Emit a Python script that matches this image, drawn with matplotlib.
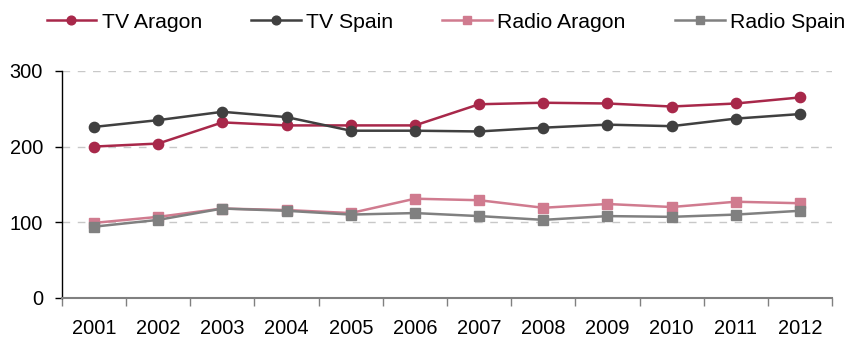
import matplotlib
matplotlib.use("Agg")
import matplotlib.pyplot as plt
import numpy as np

years = ["2001", "2002", "2003", "2004", "2005", "2006",
         "2007", "2008", "2009", "2010", "2011", "2012"]
tv_aragon = [200, 204, 232, 228, 228, 228, 256, 258, 257, 253, 257, 265]
tv_spain = [226, 235, 246, 239, 221, 221, 220, 225, 229, 227, 237, 243]
radio_aragon = [99, 107, 118, 116, 112, 131, 129, 119, 124, 120, 127, 125]
radio_spain = [94, 103, 118, 115, 110, 112, 108, 103, 108, 107, 110, 115]
y_ticks = [0, 100, 200, 300]

plt.rcParams['font.family'] = ['Liberation Sans', 'DejaVu Sans']
LEGEND_FS = 15.3
TICK_FS = 14.4

fig = plt.figure(figsize=(8.49, 3.4), dpi=100)
ax = fig.add_axes([62 / 849, 1 - 297.7 / 340, (832 - 62) / 849, (297.7 - 71) / 340])

x = np.arange(len(years))
series = [
    ("TV Aragon", tv_aragon, "#A8284A", "o", 7.4),
    ("TV Spain", tv_spain, "#404040", "o", 7.4),
    ("Radio Aragon", radio_aragon, "#D07B8F", "s", 7.4),
    ("Radio Spain", radio_spain, "#808080", "s", 7.4),
]
handles = []
for name, vals, col, mk, ms in series:
    h, = ax.plot(x, vals, color=col, marker=mk, markersize=ms, linewidth=1.8,
                 label=name, zorder=3)
    handles.append(h)

ax.set_xlim(-0.5, len(years) - 0.5)
ax.set_ylim(0, 300)
ax.set_yticks(y_ticks)
ax.set_yticklabels([str(v) for v in y_ticks], fontsize=TICK_FS)
ax.set_xticks(x)
ax.set_xticklabels(years, fontsize=TICK_FS)
ax.set_xticks(np.arange(-0.5, len(years)), minor=True)
ax.tick_params(axis='x', which='major', length=0, pad=15.5)
ax.tick_params(axis='x', which='minor', length=6, width=1, color='#808080', direction='out')
ax.tick_params(axis='y', length=5, width=1, color='black', direction='out', pad=8.6)

for y in y_ticks[1:]:
    ax.axhline(y, color='#c8c8c8', linewidth=1, linestyle=(0, (5.5, 5.5)), zorder=1)

ax.spines['top'].set_visible(False)
ax.spines['right'].set_visible(False)
ax.spines['left'].set_color('black')
ax.spines['left'].set_linewidth(1)
ax.spines['bottom'].set_color('#808080')
ax.spines['bottom'].set_linewidth(1.5)

fig.legend(handles=handles, loc='center left', bbox_to_anchor=(38 / 849, 1 - 22 / 340),
           ncol=4, frameon=False, fontsize=LEGEND_FS, handlelength=2.35,
           handletextpad=0.25, columnspacing=2.3, markerscale=0.85,
           borderaxespad=0.0)

fig.savefig("out.png", dpi=100)
